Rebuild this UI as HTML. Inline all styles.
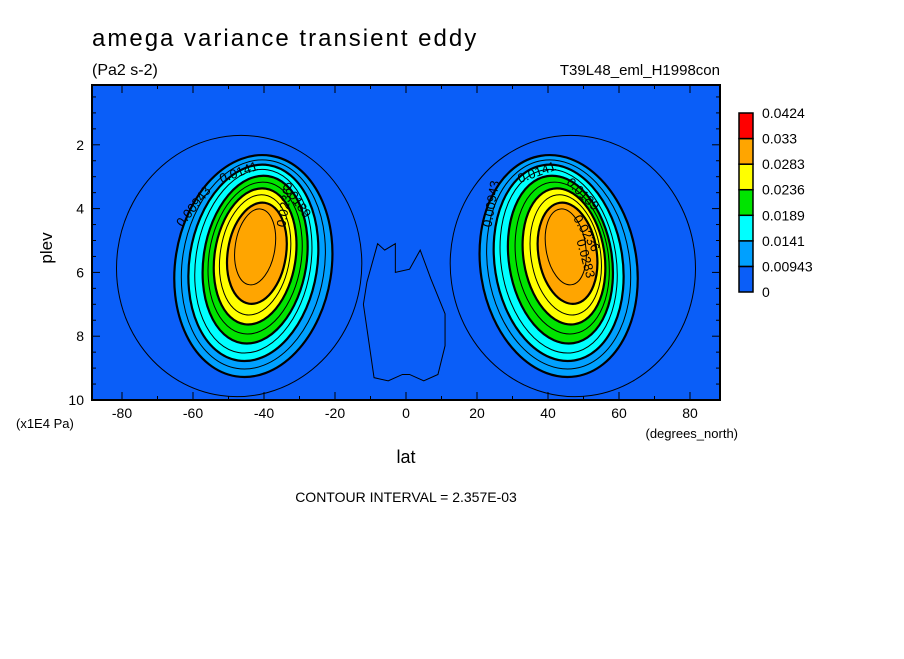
<!DOCTYPE html>
<html><head><meta charset="utf-8"><style>
body{margin:0;background:#fff;width:904px;height:654px;overflow:hidden}
svg text{font-family:"Liberation Sans",sans-serif;fill:#000}
</style></head><body>
<svg id="chart" width="904" height="654" viewBox="0 0 904 654" xmlns="http://www.w3.org/2000/svg">
<text x="92" y="46" font-size="24" letter-spacing="2">amega variance transient eddy</text>
<text x="92" y="75" font-size="16">(Pa2 s-2)</text>
<text x="720" y="75" font-size="15" text-anchor="end">T39L48_eml_H1998con</text>
<defs><clipPath id="plotclip"><rect x="92" y="85" width="628" height="315"/></clipPath></defs>
<rect x="92" y="85" width="628" height="315" fill="#0a5ef8"/>
<g id="contours" clip-path="url(#plotclip)"></g>
<rect x="92" y="85" width="628" height="315" fill="none" stroke="#000" stroke-width="2"/>
<g id="axes"></g>
<text x="52" y="248" font-size="17" text-anchor="middle" transform="rotate(-90 52 248)">plev</text>
<text x="16" y="428" font-size="13">(x1E4 Pa)</text>
<text x="406" y="463" font-size="18" text-anchor="middle">lat</text>
<text x="738" y="438" font-size="13" text-anchor="end">(degrees_north)</text>
<text x="406" y="502" font-size="14" text-anchor="middle">CONTOUR INTERVAL = 2.357E-03</text>
<g id="legend"></g>
</svg>
<script>
// data
const levels = [0.00943, 0.01178, 0.01414, 0.0165, 0.01886, 0.02121, 0.02357, 0.02593, 0.02828, 0.03064];
const sCenterLat = [-43, -43, -43, -43, -42.5, -42.5, -42.5, -42.5, -42, -42.5];
const sCenterPlev = [5.8, 5.75, 5.7, 5.65, 5.6, 5.55, 5.5, 5.45, 5.4, 5.2];
const halfLat = [22, 20, 18.0, 16.2, 14.5, 13.0, 11.4, 9.8, 8.2, 5.6];
const halfPlev = [3.5, 3.3, 3.1, 2.9, 2.65, 2.4, 2.15, 1.9, 1.6, 1.2];
const nCenterLat = [43, 43, 43, 43, 43.5, 44, 44.5, 45, 45.5, 45];
const outerLat = [-47, 47];
const outerPlev = [5.8, 5.8];
const outerHalfLat = [34.5, 34.5];
const outerHalfPlev = [4.1, 4.1];
const equatorLat = [-12,-11,-8,-6,-3,-3,1,4,7,11,11,9,5,1,-1,-5,-9,-12];
const equatorPlev = [7.0,6.3,5.1,5.3,5.1,6.0,5.9,5.3,6.2,7.3,8.3,9.2,9.4,9.2,9.2,9.4,9.3,7.0];
const bandColors = ["#0a5ef8","#00a0ff","#00ffff","#00e400","#ffff00","#ffa500","#ff0000"];
const legendLabels = ["0","0.00943","0.0141","0.0189","0.0236","0.0283","0.033","0.0424"];
const xTicks = [-80,-60,-40,-20,0,20,40,60,80];
const yTicks = [2,4,6,8,10];

const NS="http://www.w3.org/2000/svg";
const X = lat => 406 + lat*3.55;
const Y = p => 400 - (10-p)*31.9;
function mk(tag, attrs, parent){const e=document.createElementNS(NS,tag);for(const k in attrs)e.setAttribute(k,attrs[k]);parent.appendChild(e);return e;}
const cg=document.getElementById('contours');
function bandColor(v){const edges=[0,0.00943,0.0141,0.0189,0.0236,0.0283,0.033];let i=0;for(let k=0;k<edges.length;k++)if(v>=edges[k]-1e-4)i=k;return bandColors[i];}

for(let h=0;h<2;h++){
  const cx=X(outerLat[h]), cy=Y(outerPlev[h]);
  const e=mk('ellipse',{cx:cx,cy:cy,rx:outerHalfLat[h]*3.55,ry:outerHalfPlev[h]*31.9,fill:'none',stroke:'#000','stroke-width':1,transform:`rotate(${h?-8:8} ${cx} ${cy})`},cg);
  
  
}
const eq=mk('polygon',{points:equatorLat.map((l,i)=>X(l)+','+Y(equatorPlev[i])).join(' '),fill:'none',stroke:'#000','stroke-width':1},cg);



for(let h=0;h<2;h++){
  for(let i=0;i<levels.length;i++){
    const lat=h?nCenterLat[i]:sCenterLat[i];
    const cx=X(lat), cy=Y(sCenterPlev[i]);
    const e=mk('ellipse',{cx:cx,cy:cy,rx:halfLat[i]*3.55,ry:halfPlev[i]*31.9,fill:bandColor(levels[i]),stroke:'#000','stroke-width':(i%2==0)?2.2:1,transform:`rotate(${h?-9:9} ${cx} ${cy})`},cg);
    
    
  }
}
const labs=[["0.00943",-63,4.6,-52],["0.0141",-52,3.2,-20],["0.0189",-35,3.3,55],["0.0236",-34,4.6,-80],["0.00943",24,4.6,-80],["0.0141",32,3.2,-20],["0.0189",45,3.2,45],["0.0236",47,4.3,60],["0.0283",48,5.0,75]];
labs.forEach((L,i)=>{const t=mk('text',{x:X(L[1]),y:Y(L[2]),'font-size':13,transform:`rotate(${L[3]} ${X(L[1])} ${Y(L[2])})`},cg);t.textContent=L[0];

});

const ag=document.getElementById('axes');
for(let l=-80;l<=80;l+=10){const x=X(l),big=l%20==0;
  mk('line',{x1:x,y1:400,x2:x,y2:400-(big?8:4),stroke:'#000'},ag);
  mk('line',{x1:x,y1:85,x2:x,y2:85+(big?8:4),stroke:'#000'},ag);}
xTicks.forEach(l=>{const t=mk('text',{x:X(l),y:418,'font-size':14,'text-anchor':'middle'},ag);t.textContent=l;

});
for(let p=0.5;p<=10;p+=0.5){const y=Y(p),big=Number.isInteger(p)&&p%2==0;
  mk('line',{x1:92,y1:y,x2:92+(big?8:4),y2:y,stroke:'#000'},ag);
  mk('line',{x1:720,y1:y,x2:720-(big?8:4),y2:y,stroke:'#000'},ag);}
yTicks.forEach(p=>{const t=mk('text',{x:84,y:Y(p)+5,'font-size':14,'text-anchor':'end'},ag);t.textContent=p;

});

const lg=document.getElementById('legend');
const bh=179/7;
for(let i=0;i<7;i++){const y=292-(i+1)*bh;
  const r=mk('rect',{x:739,y:y,width:14,height:bh,fill:bandColors[i],stroke:'#000','stroke-width':1.5},lg);
  
  }
legendLabels.forEach((s,i)=>{const t=mk('text',{x:762,y:292-i*bh+5,'font-size':14},lg);t.textContent=s;

});
</script>
</body></html>
